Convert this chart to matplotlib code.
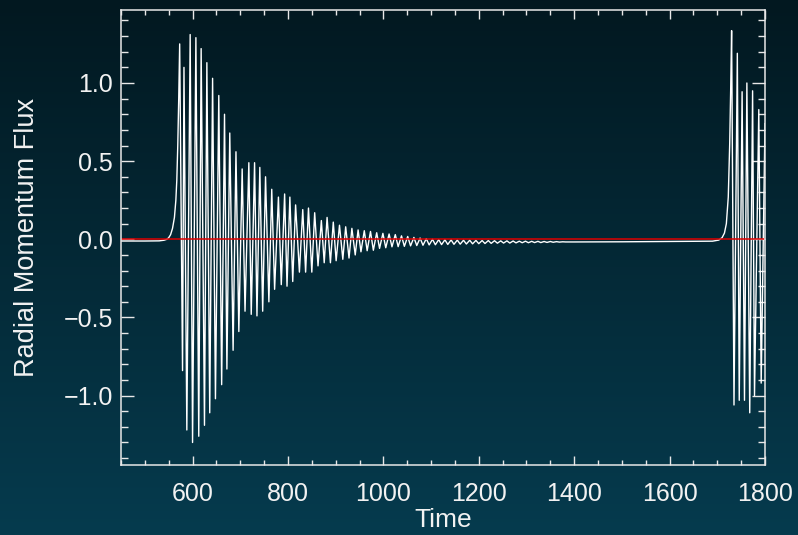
import matplotlib
matplotlib.use("Agg")
import matplotlib.pyplot as plt
import numpy as np
from matplotlib.colors import LinearSegmentedColormap
from matplotlib.ticker import MultipleLocator

plt.rcParams['font.family'] = ['Liberation Sans', 'DejaVu Sans']

# smooth start of the first burst
lead_t = [450, 500, 530, 540, 546, 550, 554, 558, 562, 565, 567, 569, 571]
lead_v = [-0.011, -0.011, -0.010, -0.006, 0.0, 0.01, 0.03, 0.07, 0.14, 0.25, 0.38, 0.6, 0.9]

# maxima of the decaying oscillation
peak_t = [573, 582, 595, 607, 618, 630, 642, 655, 667, 678,
          691, 704, 718, 730, 741, 753, 766, 780, 793, 804,
          816, 831, 843, 856, 870, 882, 895, 908, 921, 934,
          947, 960, 973, 986, 999, 1012, 1025, 1038, 1051, 1064,
          1077, 1090, 1103, 1116, 1129, 1142, 1155, 1168, 1181, 1194,
          1207, 1220, 1233, 1246, 1259, 1272, 1285, 1298, 1311, 1324,
          1337, 1350, 1363, 1376]
peak_v = [1.25, 1.10, 1.31, 1.29, 1.22, 1.13, 1.03, 0.92, 0.80, 0.68,
          0.56, 0.45, 0.49, 0.49, 0.46, 0.40, 0.32, 0.27, 0.29, 0.27,
          0.22, 0.19, 0.20, 0.17, 0.12, 0.14, 0.11, 0.09, 0.08, 0.07,
          0.06, 0.055, 0.05, 0.042, 0.038, 0.034, 0.03, 0.022, 0.018, 0.012,
          0.008, 0.004, 0.0, -0.002, -0.003, -0.004, -0.005, -0.006, -0.006, -0.007,
          -0.008, -0.008, -0.009, -0.010, -0.010, -0.011, -0.012, -0.012, -0.013, -0.013,
          -0.014, -0.014, -0.015, -0.016]

# minima of the decaying oscillation
trough_t = [579, 588, 600, 613, 625, 636, 648, 661, 672, 685,
            697, 710, 723, 735, 747, 760, 772, 786, 798, 810,
            824, 837, 850, 863, 876, 889, 901, 915, 928, 941,
            953, 966, 979, 992, 1005, 1018, 1031, 1044, 1057, 1070,
            1083, 1096, 1109, 1122, 1135, 1148, 1161, 1174, 1187, 1200,
            1213, 1226, 1239, 1252, 1265, 1278, 1291, 1304, 1317, 1330,
            1343, 1356, 1369, 1382]
trough_v = [-0.84, -1.22, -1.30, -1.26, -1.19, -1.11, -1.02, -0.93, -0.83, -0.71,
            -0.59, -0.46, -0.48, -0.49, -0.46, -0.40, -0.32, -0.29, -0.30, -0.27,
            -0.21, -0.21, -0.21, -0.17, -0.15, -0.15, -0.137, -0.128, -0.12, -0.10,
            -0.08, -0.073, -0.07, -0.058, -0.054, -0.048, -0.047, -0.045, -0.042, -0.040,
            -0.038, -0.036, -0.035, -0.034, -0.033, -0.032, -0.031, -0.030, -0.029, -0.028,
            -0.027, -0.026, -0.025, -0.024, -0.024, -0.023, -0.022, -0.022, -0.021, -0.021,
            -0.020, -0.019, -0.018, -0.017]

# quiet stretch and the rise of the second burst
flat_t = [1400, 1500, 1600, 1690, 1703, 1710, 1715, 1719, 1723, 1726, 1728]
flat_v = [-0.017, -0.016, -0.014, -0.012, -0.005, 0.01, 0.04, 0.1, 0.27, 0.61, 0.95]

# second burst
end_t = [1730, 1735, 1742, 1746, 1752, 1757, 1762, 1768, 1774, 1778, 1787, 1792, 1800]
end_v = [1.335, -1.06, 1.19, -1.03, 0.944, -1.03, 1.0, -1.11, 0.95, -1.0, 0.83, -0.92, 0.74]

osc_t = [t for pair in zip(peak_t, trough_t) for t in pair]
osc_v = [v for pair in zip(peak_v, trough_v) for v in pair]
time = np.array(lead_t + osc_t + flat_t + end_t, dtype=float)
flux = np.array(lead_v + osc_v + flat_v + end_v, dtype=float)

fig = plt.figure(figsize=(7.98, 5.35), dpi=100)

# vertical background gradient over the whole figure
bg = fig.add_axes([0, 0, 1, 1], zorder=0)
cmap = LinearSegmentedColormap.from_list('bg', ['#021820', '#063b4e'])
grad = np.linspace(0, 1, 256).reshape(-1, 1)
bg.imshow(grad, aspect='auto', cmap=cmap, extent=[0, 1, 1, 0])
bg.set_axis_off()

ax = fig.add_axes([121 / 798, 1 - 465 / 535, 644 / 798, 455 / 535], zorder=1)
ax.set_facecolor('none')

ax.plot(time, flux, color='white', lw=1.0)
ax.axhline(0, color='#dd0000', lw=1.1)

ax.set_xlim(450, 1800)
ax.set_ylim(-1.444, 1.467)
ax.xaxis.set_major_locator(MultipleLocator(200))
ax.xaxis.set_minor_locator(MultipleLocator(50))
ax.yaxis.set_major_locator(MultipleLocator(0.5))
ax.yaxis.set_minor_locator(MultipleLocator(0.1))

fg = '#e8e8e8'
for s in ax.spines.values():
    s.set_color(fg)
    s.set_linewidth(1.1)
ax.tick_params(which='both', direction='in', top=True, right=True, colors=fg,
               labelsize=18, width=1.0)
ax.tick_params(axis='x', which='major', length=6.5, pad=12)
ax.tick_params(axis='x', which='minor', length=3.6)
ax.tick_params(axis='y', which='major', length=9.5, pad=6)
ax.tick_params(axis='y', which='minor', length=5)
for lab in ax.get_xticklabels() + ax.get_yticklabels():
    lab.set_color('#f2f2f2')

ax.set_xlabel('Time', fontsize=19, color='#f2f2f2', labelpad=2)
ax.set_ylabel('Radial Momentum Flux', fontsize=19.5, color='#f2f2f2', labelpad=17)

fig.savefig('out.png', dpi=100)
